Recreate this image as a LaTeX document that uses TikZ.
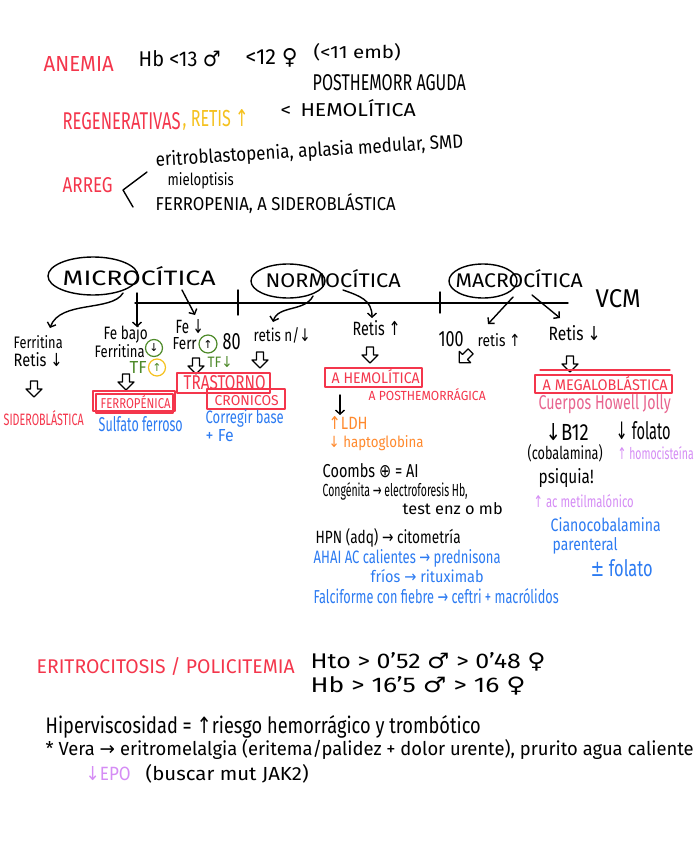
\documentclass[tikz,border=0pt]{standalone}
\usepackage{fontspec}
\usepackage{graphicx}
\setmainfont{Fira Sans}
\newfontfamily\djv{DejaVu Sans}
\usetikzlibrary{arrows.meta}
\definecolor{nred}{HTML}{F4364C}
\definecolor{nyel}{HTML}{F5C11E}
\definecolor{nora}{HTML}{FF8A2E}
\definecolor{nblue}{HTML}{2C7BF2}
\definecolor{ngreen}{HTML}{4E8A2A}
\definecolor{npink}{HTML}{E8648F}
\definecolor{nviol}{HTML}{D58CF5}
\newcommand\aU{{\djv ↑}}
\newcommand\aD{{\djv ↓}}
\newcommand\aR{{\djv →}}
\newcommand\mS{{\djv ♂}}
\newcommand\fS{{\djv ♀}}
\newcommand\oP{{\djv ⊕}}
\newcommand\pmS{{\djv ±}}
\newcommand\fw[3]{\resizebox{#1pt}{#2pt}{#3}}
\begin{document}
\begin{tikzpicture}[x=1pt,y=-1pt,line width=1.4pt,line cap=round,line join=round,
  t/.style={anchor=west,inner sep=0pt,font=\fontsize{14}{16}\selectfont},
  arr/.style={-{Straight Barb[length=4pt,width=9pt]}},
  redbox/.style={draw=nred,line width=1.2pt},
  ring/.style={circle,line width=1.2pt,inner sep=0pt,font=\fontsize{11}{13}\selectfont},
  hollow/.style={line width=1.2pt,fill=white},
  harrow/.pic={\draw[hollow] (-3.5,-8) -- (3.5,-8) -- (3.5,0) -- (8,0) -- (0,8) -- (-8,0) -- (-3.5,0) -- cycle;}]
\fill[white] (0,0) rectangle (700,848);
\useasboundingbox (0,0) rectangle (700,848);

% ---------- top ----------
\node[t,nred] (anemia) at (43,64) {\fw{70}{15}{ANEMIA}};
\node[t] (hbm) at (138,59) {\fw{82}{16}{Hb <13 \mS}};
\node[t] (hbf) at (245,58) {\fw{52}{16}{<12 \fS}};
\node[t] (emb) at (313,52) {\fw{87}{15}{(<11 emb)}};
\node[t] (post) at (312,83) {\fw{153}{16}{POSTHEMORR AGUDA}};
\node[t] (hemo) at (280,108) {\fw{135}{17}{<\, HEMOLÍTICA}};
\node[t,nred] (reg) at (62,121) {\fw{118}{17}{REGENERATIVAS}};
\node[t,nyel] (retis) at (182,120) {\fw{66}{17}{, RETIS \aU}};
\node[t,nred] (arreg) at (62,185) {\fw{50}{15}{ARREG}};
\coordinate (ka) at (147,172);
\coordinate (kb) at (123,190);
\coordinate (kc) at (133,207);
\draw (ka) -- (kb) -- (kc);
\node[t,rotate=3.5] (eri) at (155,161) {\fw{308}{15}{eritroblastopenia, aplasia medular, SMD}};
\node[t] (mie) at (167,181) {\fw{66}{13}{mieloptisis}};
\node[t] (ferr) at (155,204) {\fw{240}{17}{FERROPENIA, A SIDEROBLÁSTICA}};

% ---------- axis ----------
\coordinate (ax0) at (135,303);
\coordinate (ax1) at (568,303);
\draw (ax0) -- (ax1);
\draw (238,290) -- (238,315);
\draw (440,292) -- (440,313);
\node[t] (vcm) at (595,299) {\fw{45}{18}{VCM}};

\node[t] (micro) at (62,276) {\fw{153}{19}{MICROCÍTICA}};
\draw (93,276) ellipse [x radius=45, y radius=19];
\node[t] (normo) at (265,279) {\fw{135}{18}{NORMOCÍTICA}};
\draw (288,281) ellipse [x radius=37, y radius=17];
\node[t] (macro) at (455,279) {\fw{127}{18}{MACROCÍTICA}};
\draw (483,281) ellipse [x radius=34, y radius=17];

\draw[arr] (123,293) .. controls (112,312) and (60,300) .. (50,328);
\draw[arr] (137,293) -- (137,327);
\draw[arr] (182,290) -- (195,315);
\draw[arr] (313,296) .. controls (305,312) and (278,305) .. (273,322);
\draw[arr] (343,290) .. controls (360,296) and (372,300) .. (372,318);
\draw[arr] (513,297) -- (488,324);
\draw[arr] (532,295) -- (560,318);

% ---------- microcitica ----------
\node[t] (ferri1) at (13,342) {\fw{49}{13}{Ferritina}};
\node[t] (ret1) at (13,360) {\fw{49}{14}{Retis \aD}};
\pic at (34,389) {harrow};
\node[t,nred] (sidero) at (3,418) {\fw{80}{15}{SIDEROBLÁSTICA}};

\node[t] (febajo) at (103,334) {\fw{44}{14}{Fe bajo}};
\node[t] (ferri2) at (94,351) {\fw{50}{13}{Ferritina}};
\node[ring,draw=ngreen,minimum size=17pt] (c1) at (154,348) {\aD};
\node[t,ngreen] (tf1) at (129,367) {\fw{17}{12}{TF}};
\node[ring,draw=nyel,minimum size=17pt,text=ngreen] (c2) at (157,367.5) {\aU};
\pic at (126,382) {harrow};
\draw[redbox] (93,391) rectangle (175,411);
\draw[redbox] (96,394) rectangle (173,413);
\node[t,nred] (ferrop) at (100,402.5) {\fw{70}{13}{FERROPÉNICA}};
\node[t,nblue] (sulf) at (98,424) {\fw{84}{15}{Sulfato ferroso}};

\node[t] (fe2) at (175,327) {\fw{28}{14}{Fe \aD}};
\node[t] (ferr2) at (172,344) {\fw{24}{12}{Ferr}};
\node[ring,draw=ngreen,minimum size=18pt] (c3) at (208,344) {\aU};
\node[t] (ochenta) at (222,342) {\fw{18}{16}{80}};
\node[t,ngreen] (tf2) at (207,362) {\fw{25}{11}{TF\aD}};
\pic at (196,366) {harrow};
\draw[redbox] (177,373) rectangle (270,393);
\draw[redbox] (207,389) rectangle (285,409);
\node[t,nred] (trast) at (183,383) {\fw{82}{14}{TRASTORNO}};
\node[t,nred] (cron) at (214,399.5) {\fw{64}{13}{CRÓNICOS}};
\node[t,nblue] (corr) at (205,418) {\fw{78}{14}{Corregir base}};
\node[t,nblue] (fe3) at (205,436) {\fw{28}{12}{+ Fe}};

% ---------- normocitica ----------
\node[t] (retn) at (253,335) {\fw{57}{14}{retis n/\aD}};
\pic at (260,360) {harrow};
\node[t] (retu) at (352,328) {\fw{48}{15}{Retis \aU}};
\pic at (370,355) {harrow};
\draw[redbox] (325,368) rectangle (422,387);
\node[t,nred] (ahem) at (331,377) {\fw{88}{14}{A HEMOLÍTICA}};
\node[t,nred] (apost) at (368,395) {\fw{117}{12}{A POSTHEMORRÁGICA}};
\coordinate (d0) at (340,395);
\coordinate (d1) at (340,415);
\draw[arr] (d0) -- (d1);
\node[t,nora] (ldh) at (328,423) {\fw{39}{13}{\aU LDH}};
\node[t,nora] (hapto) at (328,443) {\fw{95}{12}{\aD\ haptoglobina}};
\node[t] (coombs) at (322,471) {\fw{96}{14}{Coombs \oP\ = AI}};
\node[t] (cong) at (322,491) {\fw{145}{14}{Congénita \aR\ electroforesis Hb,}};
\node[t] (test) at (402,509) {\fw{100}{12}{test enz o mb}};
\node[t] (hpn) at (315,538) {\fw{145}{15}{HPN (adq) \aR\ citometría}};
\node[t,nblue] (ahai) at (313,558) {\fw{187}{14}{AHAI AC calientes \aR\ prednisona}};
\node[t,nblue] (frios) at (370,576) {\fw{113}{13}{fríos \aR\ rituximab}};
\node[t,nblue] (falci) at (313,596) {\fw{245}{15}{Falciforme con fiebre \aR\ ceftri + macrólidos}};

% ---------- macrocitica ----------
\node[t] (cien) at (438,339) {\fw{25}{15}{100}};
\node[t] (retm) at (477,340) {\fw{43}{13}{retis \aU}};
% hollow arrow pointing down-left
\draw[hollow] (468.19,348.87) -- (473.13,353.81) -- (467.47,359.47) -- (470.66,362.66)
  -- (459.34,362.66) -- (459.34,351.34) -- (462.53,354.53) -- cycle;
\node[t] (retd) at (548,333) {\fw{52}{15}{Retis \aD}};
\pic at (570,364) {harrow};
\draw[nred,line width=1.2pt] (540,370) -- (670,370);
\draw[redbox] (535,375) rectangle (672,393);
\node[t,nred] (mega) at (542,384) {\fw{125}{14}{A MEGALOBLÁSTICA}};
\node[t,npink] (howell) at (538,404) {\fw{132}{15}{Cuerpos Howell Jolly}};
\node[t] (b12) at (545,432) {\fw{43}{17}{\aD B12}};
\node[t] (fol) at (615,431) {\fw{55}{18}{\aD\ folato}};
\node[t] (cob) at (527,453) {\fw{75}{15}{(cobalamina)}};
\node[t,nviol] (homo) at (617,453) {\fw{76}{13}{\aU\ homocisteína}};
\node[t] (psi) at (538,478) {\fw{55}{15}{psiquia!}};
\node[t,nviol] (amm) at (533,501) {\fw{100}{13}{\aU\ ac metilmalónico}};
\node[t,nblue] (ciano) at (550,525) {\fw{110}{14}{Cianocobalamina}};
\node[t,nblue] (paren) at (552,546) {\fw{65}{13}{parenteral}};
\node[t,nblue] (pmfol) at (590,568) {\fw{62}{17}{\pmS\ folato}};

% ---------- bottom ----------
\node[t,nred] (eritro) at (36,667) {\fw{258}{16}{ERITROCITOSIS / POLICITEMIA}};
\node[t] (hto) at (310,662) {\fw{235}{16}{Hto > 0'52 \mS\ > 0'48 \fS}};
\node[t] (hb2) at (310,686) {\fw{215}{16}{Hb > 16'5 \mS\ > 16 \fS}};
\node[t] (hiper) at (45,727) {\fw{435}{18}{Hiperviscosidad = \aU riesgo hemorrágico y trombótico}};
\node[t] (vera) at (45,750) {\fw{648}{16}{* Vera \aR\ eritromelalgia (eritema/palidez + dolor urente), prurito agua caliente}};
\node[t,nviol] (epo) at (85,774) {\fw{45}{14}{\aD EPO}};
\node[t] (jak) at (145,774) {\fw{163}{16}{(buscar mut JAK2)}};
\end{tikzpicture}
\end{document}
